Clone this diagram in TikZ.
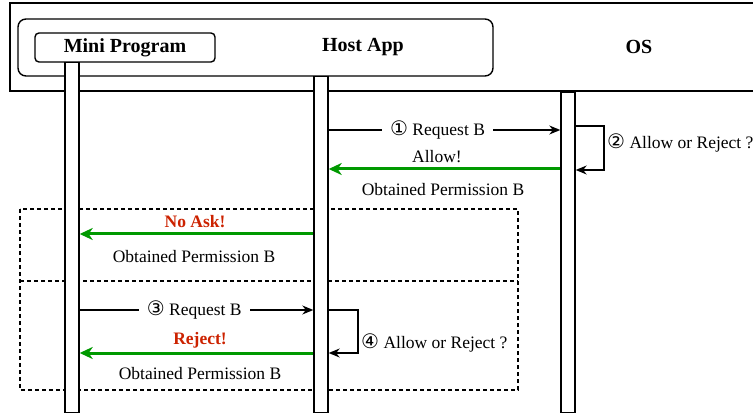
\documentclass[tikz,border=0pt]{standalone}
\usepackage{fontspec}
\setmainfont{Liberation Serif}
\newfontfamily\symfont{DejaVu Sans}
\usetikzlibrary{arrows.meta}
\definecolor{okgreen}{RGB}{0,153,0}
\definecolor{nored}{RGB}{204,34,0}
\newcommand{\circnum}[1]{\raisebox{-0.5pt}{\symfont\fontsize{20}{20}\selectfont #1}}
\begin{document}
\begin{tikzpicture}[x=1pt,y=-1pt,
  txt/.style={font=\fontsize{17.5}{20}\selectfont, inner sep=2pt},
  hdr/.style={font=\fontsize{20}{24}\selectfont\bfseries, inner sep=0pt},
  lifeline/.style={draw, line width=1.4pt, fill=white},
  msg/.style={line width=1.2pt, -{Stealth[length=11pt,width=9pt]}},
  reply/.style={draw=okgreen, line width=3pt, -{Stealth[length=13pt,width=12pt,inset=4pt]}},
  onlabel/.style={txt, fill=white, inner xsep=8pt},
  redlbl/.style={txt, text=nored, font=\fontsize{17.5}{20}\selectfont\bfseries},
  dashbox/.style={draw, dash pattern=on 4pt off 3pt, line width=1.1pt}
]
\useasboundingbox (0,0) rectangle (753,414);
% frames
\draw[line width=1.4pt] (753,3) -- (10,3) -- (10,91) -- (753,91);
\draw[line width=1.4pt, rounded corners=8pt] (18,19) rectangle (493,76);
\node[draw, line width=1.4pt, rounded corners=4pt, minimum width=180pt, minimum height=29pt, hdr] (mpbox) at (125,47.5) {Mini Program};
\node[hdr] (host) at (363,47) {Host App};
\node[hdr] (os) at (639,47) {OS};
% dashed fragments
\draw[dashbox] (20,209) rectangle (518,390);
\draw[dashbox] (20,281) -- (518,281);
% lifelines
\node[lifeline, minimum width=14pt, minimum height=350pt, inner sep=0pt, anchor=north] (mpl) at (72,62) {};
\node[lifeline, minimum width=14pt, minimum height=336pt, inner sep=0pt, anchor=north] (hl) at (321,76) {};
\node[lifeline, minimum width=14pt, minimum height=320pt, inner sep=0pt, anchor=north] (osl) at (568,92) {};
% coordinates
\coordinate (h1) at (hl.east |- 0,130);
\coordinate (o1) at (osl.west |- 0,130);
\coordinate (oa) at (osl.east |- 0,126);
\coordinate (ob) at (osl.east |- 0,170);
\coordinate (o2) at (osl.west |- 0,169);
\coordinate (h2) at (hl.east |- 0,169);
\coordinate (h3) at (hl.west |- 0,234);
\coordinate (m3) at (mpl.east |- 0,234);
\coordinate (m4) at (mpl.east |- 0,310);
\coordinate (h4) at (hl.west |- 0,310);
\coordinate (ha) at (hl.east |- 0,310);
\coordinate (hb) at (hl.east |- 0,353);
\coordinate (h5) at (hl.west |- 0,353);
\coordinate (m5) at (mpl.east |- 0,353);
% step 1
\draw[msg] (h1) -- node[onlabel, pos=0.47] (l1) {\circnum{①} Request B} (o1);
\draw[msg] (oa) -- (604,126) -- (604,170) -- (ob);
\node[txt, anchor=west] (l2) at (605,143) {\circnum{②} Allow or Reject ?};
\draw[reply] (o2) -- (h2);
\node[txt] (allow) at (437,157) {Allow!};
\node[txt] (ob1) at (443,190) {Obtained Permission B};
% no ask
\draw[reply] (h3) -- (m3);
\node[redlbl] (noask) at (195,222) {No Ask!};
\node[txt] (ob2) at (194,257) {Obtained Permission B};
% step 3
\draw[msg] (m4) -- node[onlabel, pos=0.49] (l3) {\circnum{③} Request B} (h4);
\draw[msg] (ha) -- (358,310) -- (358,353) -- (hb);
\node[txt, anchor=west] (l4) at (359,343) {\circnum{④} Allow or Reject ?};
\draw[reply] (h5) -- (m5);
\node[redlbl] (reject) at (200,340) {Reject!};
\node[txt] (ob3) at (200,374) {Obtained Permission B};
\end{tikzpicture}
\end{document}
